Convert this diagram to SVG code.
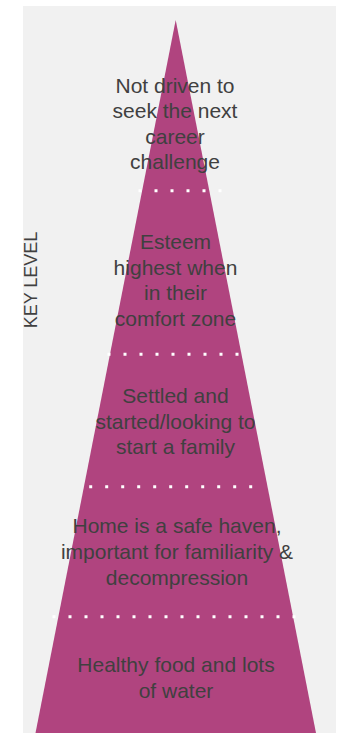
<svg xmlns="http://www.w3.org/2000/svg" width="339" height="733" viewBox="0 0 339 733">
<style>
.lbl{font-family:"Liberation Sans",Arial,sans-serif;font-size:21px;fill:#404040;text-anchor:middle}
.dots{stroke:#ffffff;stroke-width:3;stroke-dasharray:3 13;fill:none}
</style>
<rect x="0" y="0" width="339" height="733" fill="#ffffff"/>
<rect x="23" y="6" width="313" height="727" fill="#f1f1f1"/>
<g id="pyramid">
<polygon points="175.7,20 316,733 35.5,733" fill="#b0447f"/>
</g>
<g id="connectors">
<line class="dots" x1="138.5" y1="190.7" x2="230" y2="190.7"/>
<line class="dots" x1="107.5" y1="354.3" x2="245" y2="354.3"/>
<line class="dots" x1="89.2" y1="486.7" x2="260" y2="486.7"/>
<line class="dots" x1="52.5" y1="616.7" x2="300" y2="616.7"/>
</g>
<g id="level1"><text class="lbl" x="175" y="92.5">Not driven to</text><text class="lbl" x="175" y="118">seek the next</text><text class="lbl" x="175" y="143.5">career</text><text class="lbl" x="175" y="169">challenge</text></g>
<g id="level2"><text class="lbl" x="175.5" y="249">Esteem</text><text class="lbl" x="175.5" y="274.5">highest when</text><text class="lbl" x="175.5" y="300">in their</text><text class="lbl" x="175.5" y="325.7">comfort zone</text></g>
<g id="level3"><text class="lbl" x="175.5" y="403">Settled and</text><text class="lbl" x="175.5" y="428.5">started/looking to</text><text class="lbl" x="175.5" y="454">start a family</text></g>
<g id="level4"><text class="lbl" x="177" y="533.3">Home is a safe haven,</text><text class="lbl" x="177" y="559.3">important for familiarity &amp;</text><text class="lbl" x="177" y="585">decompression</text></g>
<g id="level5"><text class="lbl" x="176" y="672.3">Healthy food and lots</text><text class="lbl" x="176" y="697.7">of water</text></g>
<g id="axis"><text x="36.5" y="280" transform="rotate(-90 36.5 280)" style="font-family:'Liberation Sans',Arial,sans-serif;font-size:18px;fill:#404040;text-anchor:middle">KEY LEVEL</text></g>
</svg>
